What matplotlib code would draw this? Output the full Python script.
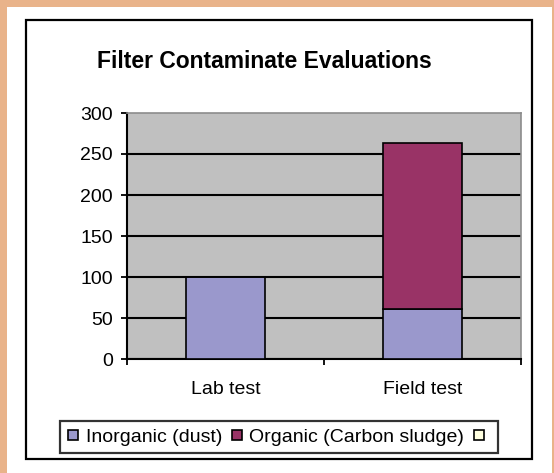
import matplotlib
matplotlib.use("Agg")
import matplotlib.pyplot as plt
from matplotlib.patches import Rectangle
from matplotlib.lines import Line2D

plt.rcParams['font.family'] = ['Liberation Sans', 'DejaVu Sans']

categories = ["Lab test", "Field test"]
inorganic = [100, 61]
organic = [0, 202]
series_names = ["Inorganic (dust)", "Organic (Carbon sludge)", ""]
series_colors = ["#9a98cc", "#993366", "#ffffe0"]
yticks = [0, 50, 100, 150, 200, 250, 300]

W, H = 554, 473
fig = plt.figure(figsize=(W / 100, H / 100), dpi=100, facecolor="#e9b38a")

# white panel and black chart frame
fig.patches.append(Rectangle((7 / W, 0), 545 / W, 466 / H, transform=fig.transFigure,
                             facecolor="white", edgecolor="none", zorder=-2))
fig.patches.append(Rectangle((26 / W, 14 / H), 506 / W, 439 / H, transform=fig.transFigure,
                             facecolor="none", edgecolor="black", linewidth=1.6, zorder=-1))

ax = fig.add_axes([127 / W, 114 / H, 394 / W, 246 / H])
ax.set_zorder(2)
ax.set_facecolor("#c0c0c0")

x = range(len(categories))
ax.bar(x, inorganic, width=0.4, color=series_colors[0], edgecolor="black", linewidth=1.2, zorder=3)
ax.bar(x, organic, width=0.4, bottom=inorganic, color=series_colors[1], edgecolor="black",
       linewidth=1.2, zorder=3)

ax.set_xlim(-0.5, 1.5)
ax.set_ylim(0, 300)
ax.set_yticks(yticks)
ax.tick_params(axis="y", direction="out", length=4.5, width=1.3, pad=5.5, labelsize=14)
ax.set_xticks(list(x))
ax.set_xticklabels(categories)
ax.set_xticks([-0.5, 0.5, 1.5], minor=True)
ax.tick_params(axis="x", which="major", length=0, pad=15.5, labelsize=14)
ax.tick_params(axis="x", which="minor", direction="out", length=4.5, width=1.3)

ax.yaxis.grid(True, color="black", linewidth=1.5, zorder=1)
ax.set_axisbelow(True)
ax.get_ygridlines()[-1].set_visible(False)

for s in ["left", "bottom"]:
    ax.spines[s].set_color("black")
    ax.spines[s].set_linewidth(1.5)
for s in ["top", "right"]:
    ax.spines[s].set_color("#8c8c8c")
    ax.spines[s].set_linewidth(1.2)

fig.text(264.5 / W, 1 - 62 / H, "Filter Contaminate Evaluations", ha="center", va="center",
         fontsize=16.5, fontweight="bold")

handles = [Line2D([], [], linestyle="none", marker="s", markersize=7, markerfacecolor=c,
                  markeredgecolor="black", markeredgewidth=1.2) for c in series_colors]
leg = fig.legend(handles, series_names, loc="center", bbox_to_anchor=(279 / W, 36 / H),
                 ncol=3, fontsize=14, frameon=True, fancybox=False, handlelength=0.7,
                 handletextpad=0.3, columnspacing=0.4, borderpad=0.35, borderaxespad=0)
leg.get_frame().set_edgecolor("black")
leg.get_frame().set_linewidth(1.6)

fig.savefig("out.png", dpi=100, facecolor=fig.get_facecolor())
